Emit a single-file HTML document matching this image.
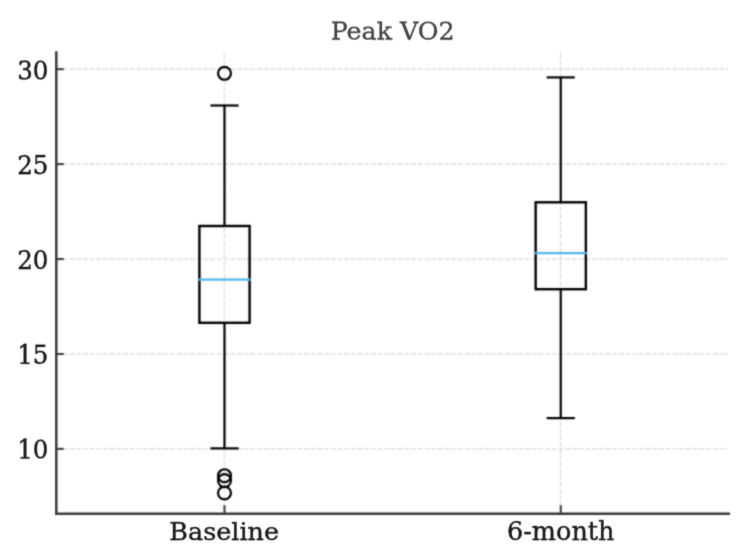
<!DOCTYPE html>
<html><head><meta charset="utf-8"><title>Peak VO2</title>
<style>html,body{margin:0;padding:0;background:#fff}svg{display:block}text{font-family:"DejaVu Serif","Liberation Serif",serif}</style></head><body>
<svg width="742" height="554" viewBox="0 0 742 554">
<defs><filter id="b" x="0" y="0" width="742" height="554" filterUnits="userSpaceOnUse" color-interpolation-filters="sRGB"><feConvolveMatrix order="3" kernelMatrix="0.04 0.12 0.04 0.12 0.36 0.12 0.04 0.12 0.04" divisor="1" edgeMode="none" preserveAlpha="false"/></filter><filter id="t" x="0" y="0" width="742" height="554" filterUnits="userSpaceOnUse" color-interpolation-filters="sRGB"><feConvolveMatrix order="3" kernelMatrix="0.0169 0.0962 0.0169 0.0962 0.5476 0.0962 0.0169 0.0962 0.0169" divisor="1" edgeMode="none" preserveAlpha="false"/></filter></defs>
<rect width="742" height="554" fill="#fff"/>
<g filter="url(#b)">
<g stroke="#e3e3e3" stroke-width="1.8" stroke-dasharray="4.9 1.8" fill="none">
<line x1="56.099999999999994" x2="728.0" y1="448.90" y2="448.90"/>
<line x1="56.099999999999994" x2="728.0" y1="353.97" y2="353.97"/>
<line x1="56.099999999999994" x2="728.0" y1="259.05" y2="259.05"/>
<line x1="56.099999999999994" x2="728.0" y1="164.12" y2="164.12" stroke-width="1.2" stroke="#d6d6d6"/>
<line x1="56.099999999999994" x2="728.0" y1="69.20" y2="69.20"/>
<line x1="224.4" x2="224.4" y1="513.7" y2="51.2" stroke-width="1.9" stroke="#e6e6e6"/>
<line x1="560.5" x2="560.5" y1="513.7" y2="51.2" stroke-width="1.1" stroke="#d4d4d4"/>
</g>
<g stroke="#000" stroke-width="2.2" fill="none" stroke-linecap="square">
<line x1="224.5" x2="224.5" y1="322.80" y2="448.40" stroke-linecap="butt"/>
<line x1="224.5" x2="224.5" y1="226.00" y2="105.50" stroke-linecap="butt"/>
<line x1="211.5" x2="237.5" y1="448.40" y2="448.40"/>
<line x1="211.5" x2="237.5" y1="105.50" y2="105.50"/>
<rect x="199.4" y="226.00" width="50.2" height="96.80" stroke-width="2.4"/>
<circle cx="224.5" cy="73.30" r="6.45"/>
<circle cx="224.5" cy="475.70" r="6.45"/>
<circle cx="224.5" cy="480.60" r="6.45"/>
<circle cx="224.5" cy="493.00" r="6.45"/>
</g>
<line x1="198.4" x2="250.6" y1="279.70" y2="279.70" stroke="#56B4E9" stroke-width="2.3"/>
<g stroke="#000" stroke-width="2.2" fill="none" stroke-linecap="square">
<line x1="560.75" x2="560.75" y1="289.20" y2="418.10" stroke-linecap="butt"/>
<line x1="560.75" x2="560.75" y1="202.30" y2="77.40" stroke-linecap="butt"/>
<line x1="547.75" x2="573.75" y1="418.10" y2="418.10"/>
<line x1="547.75" x2="573.75" y1="77.40" y2="77.40"/>
<rect x="535.65" y="202.30" width="50.2" height="86.90" stroke-width="2.4"/>
</g>
<line x1="534.65" x2="586.85" y1="253.05" y2="253.05" stroke="#56B4E9" stroke-width="2.3"/>
<path d="M56.3,51.2 L56.3,513.7 L730.0,513.7" stroke="#383838" stroke-width="2.5" fill="none" stroke-linejoin="miter"/>
<g stroke="#383838" stroke-width="2" fill="none">
<line x1="56.3" x2="63.699999999999996" y1="448.90" y2="448.90"/>
<line x1="56.3" x2="63.699999999999996" y1="353.97" y2="353.97"/>
<line x1="56.3" x2="63.699999999999996" y1="259.05" y2="259.05"/>
<line x1="56.3" x2="63.699999999999996" y1="164.12" y2="164.12"/>
<line x1="56.3" x2="63.699999999999996" y1="69.20" y2="69.20"/>
<line x1="224.5" x2="224.5" y1="513.7" y2="505.20000000000005"/>
<line x1="560.75" x2="560.75" y1="513.7" y2="505.20000000000005"/>
</g>
</g>
<defs>
<filter id="f0" x="0" y="0" width="742" height="554" filterUnits="userSpaceOnUse" color-interpolation-filters="sRGB"><feConvolveMatrix order="3" kernelMatrix="0.0591 0.3743 0.0591 0.0609 0.3857 0.0609 0.0000 0.0000 0.0000" divisor="1" edgeMode="none" preserveAlpha="false"/></filter>
<filter id="f1" x="0" y="0" width="742" height="554" filterUnits="userSpaceOnUse" color-interpolation-filters="sRGB"><feConvolveMatrix order="3" kernelMatrix="0.0314 0.1987 0.0314 0.0849 0.5374 0.0849 0.0038 0.0239 0.0038" divisor="1" edgeMode="none" preserveAlpha="false"/></filter>
<filter id="f2" x="0" y="0" width="742" height="554" filterUnits="userSpaceOnUse" color-interpolation-filters="sRGB"><feConvolveMatrix order="3" kernelMatrix="0.0115 0.0732 0.0115 0.0909 0.5757 0.0909 0.0175 0.1111 0.0175" divisor="1" edgeMode="none" preserveAlpha="false"/></filter>
<filter id="f3" x="0" y="0" width="742" height="554" filterUnits="userSpaceOnUse" color-interpolation-filters="sRGB"><feConvolveMatrix order="3" kernelMatrix="0.0081 0.0511 0.0081 0.0895 0.5667 0.0895 0.0225 0.1423 0.0225" divisor="1" edgeMode="none" preserveAlpha="false"/></filter>
<filter id="f4" x="0" y="0" width="742" height="554" filterUnits="userSpaceOnUse" color-interpolation-filters="sRGB"><feConvolveMatrix order="3" kernelMatrix="0.0090 0.0570 0.0090 0.0900 0.5700 0.0900 0.0210 0.1330 0.0210" divisor="1" edgeMode="none" preserveAlpha="false"/></filter>
<filter id="f5" x="0" y="0" width="742" height="554" filterUnits="userSpaceOnUse" color-interpolation-filters="sRGB"><feConvolveMatrix order="3" kernelMatrix="0.0480 0.3040 0.0480 0.0720 0.4560 0.0720 0.0000 0.0000 0.0000" divisor="1" edgeMode="none" preserveAlpha="false"/></filter>
</defs>
<g filter="url(#f0)"><text transform="translate(48.4,459) scale(1,1.05)" font-size="24.5px" text-anchor="end" fill="#1a1a1a" stroke="#1a1a1a" stroke-width="0.4">10</text></g>
<g filter="url(#f1)"><text transform="translate(48.4,364) scale(1,1.05)" font-size="24.5px" text-anchor="end" fill="#1a1a1a" stroke="#1a1a1a" stroke-width="0.4">15</text></g>
<g filter="url(#f2)"><text transform="translate(48.4,269) scale(1,1.06)" font-size="24.5px" text-anchor="end" fill="#1a1a1a" stroke="#1a1a1a" stroke-width="0.4">20</text></g>
<g filter="url(#f3)"><text transform="translate(48.4,174) scale(1,1.06)" font-size="24.5px" text-anchor="end" fill="#1a1a1a" stroke="#1a1a1a" stroke-width="0.4">25</text></g>
<g filter="url(#f0)"><text transform="translate(48.4,80) scale(1,1.08)" font-size="24.5px" text-anchor="end" fill="#1a1a1a" stroke="#1a1a1a" stroke-width="0.4">30</text></g>
<g filter="url(#f4)"><text transform="translate(224.2,540) scale(1,0.98)" font-size="25.45px" text-anchor="middle" fill="#1a1a1a" stroke="#1a1a1a" stroke-width="0.4">Baseline</text></g>
<g filter="url(#f4)"><text transform="translate(507.02,540) scale(1,1.02)" font-size="25.5px" text-anchor="start" fill="#1a1a1a" stroke="#1a1a1a" stroke-width="0.4">6-month</text></g>
<g filter="url(#f5)"><text transform="translate(392.7,40) scale(1,0.985)" font-size="25.3px" text-anchor="middle" fill="#444444" stroke="#444444" stroke-width="0.3">Peak VO2</text></g>
</svg></body></html>
